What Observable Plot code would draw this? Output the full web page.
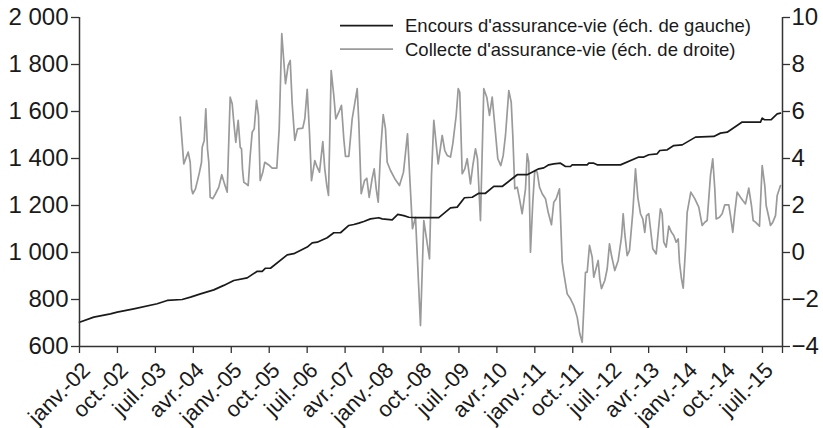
<!DOCTYPE html>
<html><head><meta charset="utf-8">
<script src="https://cdn.jsdelivr.net/npm/d3@7"></script>
<script src="https://cdn.jsdelivr.net/npm/@observablehq/plot@0.6"></script>
<style>body{margin:0;background:#fff} svg{display:block}</style>
</head><body><div id="chart"></div>
<script>
// x = months since janv.-02 (0 = janv.-02)
const tickMonths = [0,9,18,27,36,45,54,63,72,81,90,99,108,117,126,135,144,153,162];
const tickLabels = ["janv.-02","oct.-02","juil.-03","avr.-04","janv.-05","oct.-05","juil.-06","avr.-07","janv.-08","oct.-08","juil.-09","avr.-10","janv.-11","oct.-11","juil.-12","avr.-13","janv.-14","oct.-14","juil.-15"];
const xEnd = 166.75;
const leftTicks = [600,800,1000,1200,1400,1600,1800,2000];
const rightTicks = [-4,-2,0,2,4,6,8,10];
const seriesNames = ["Encours d'assurance-vie (éch. de gauche)","Collecte d'assurance-vie (éch. de droite)"];

// Encours (left scale)
const encoursT = [0,3.39,7.35,8.94,12.88,18.43,20.80,24.36,26.33,28.70,31.85,34.22,36.60,39.78,42.15,43.34,44.12,45.30,49.27,50.83,54.01,55.19,56.38,58.75,60.32,61.91,63.88,65.06,66.25,67.43,69.02,70.99,71.80,74.17,75.50,76.92,78.11,79.70,85.22,88.00,89.59,91.32,93.15,94.71,96.30,98.27,100.26,103.82,106.19,108.94,110.13,111.31,112.50,114.09,115.28,116.46,116.86,120.42,120.80,121.99,122.79,128.32,132.66,133.85,135.03,137.03,137.64,139.40,140.96,142.96,146.11,150.45,152.04,153.63,157.19,161.53,161.93,162.48,164.07,165.49,166.27];
const encoursV = [703,725,739,746,760,782,796,800,810,824,841,860,881,892,920,920,933,933,990,995,1023,1041,1044,1063,1084,1084,1115,1119,1125,1132,1143,1148,1143,1139,1162,1157,1150,1148,1148,1190,1193,1233,1235,1252,1252,1281,1281,1331,1331,1356,1360,1373,1377,1380,1366,1366,1373,1373,1380,1380,1373,1373,1406,1406,1416,1420,1434,1437,1455,1458,1491,1494,1508,1512,1555,1555,1572,1565,1565,1590,1593];

// Collecte (right scale)
const collecteT = [23.89,24.74,25.78,26.26,26.57,26.87,27.51,27.99,28.46,28.94,29.10,29.58,29.96,30.36,30.67,31.00,31.62,32.26,33.04,33.75,34.39,35.03,35.74,36.22,36.60,37.07,37.64,38.12,38.43,38.66,38.97,39.54,40.01,40.49,40.96,41.44,41.98,42.46,42.86,43.48,43.95,45.07,45.71,46.80,47.37,47.98,48.86,49.50,49.98,50.45,51.07,51.71,
52.96,53.44,54.01,54.55,55.03,55.81,56.38,56.93,57.71,58.18,58.66,59.06,59.70,60.32,60.79,61.50,62.14,62.69,63.09,63.88,64.68,65.87,66.25,66.82,67.60,68.15,68.71,69.43,69.90,70.38,70.85,71.40,72.04,72.58,72.98,73.77,74.79,75.90,76.85,77.80,78.44,78.98,79.70,80.88,
81.67,83.02,83.49,84.04,85.08,86.03,86.65,87.22,88.00,88.55,89.35,89.83,90.20,90.77,91.39,91.96,92.74,93.29,93.93,94.40,95.11,95.90,96.61,97.25,97.89,98.51,99.22,99.93,100.50,101.04,101.83,102.40,102.78,103.25,103.82,104.36,105.00,105.79,106.19,106.57,106.97,107.52,107.99,108.56,109.11,109.75,110.53,111.17,111.95,112.50,113.07,113.85,114.49,114.97,115.68,116.46,117.24,118.05,118.67,119.24,
120.02,120.42,120.97,121.61,121.98,123.03,123.41,123.81,124.60,125.17,125.71,126.19,126.97,127.78,128.56,128.96,129.34,129.91,130.46,131.24,131.88,132.43,133.06,133.61,134.08,134.49,135.03,135.44,135.98,136.79,
137.79,138.21,138.59,139.16,139.78,140.42,140.96,141.53,142.01,142.31,142.79,143.19,143.74,144.14,145.00,145.94,146.89,147.70,148.32,148.88,149.67,150.21,150.69,151.02,151.80,152.44,153.06,154.01,154.41,154.96,155.43,156.00,156.78,157.33,157.97,158.75,159.39,159.80,160.34,161.29,161.93,162.55,162.88,163.50,163.90,164.45,165.09,165.49,166.27];
const collecteV = [5.76,3.77,4.27,3.84,2.71,2.50,2.71,3.06,3.42,3.84,4.48,4.77,6.11,4.41,3.84,2.35,2.29,2.50,2.78,3.31,2.92,2.57,6.61,6.33,5.54,4.69,5.62,4.48,4.41,3.56,2.99,2.92,2.85,4.13,5.12,5.26,6.47,5.83,3.06,3.42,3.84,3.70,3.59,3.59,5.26,9.31,7.18,7.96,8.17,6.33,4.77,5.26,
5.29,5.69,6.94,5.12,3.06,3.91,3.63,3.42,4.72,3.56,2.85,2.43,7.74,6.68,5.69,5.97,6.26,4.84,4.09,4.09,5.69,6.97,5.54,2.50,3.06,3.16,2.35,3.16,3.56,2.71,2.14,4.27,5.87,5.26,3.84,3.49,3.14,2.85,3.42,5.05,2.85,1.01,1.50,-3.11,
1.36,-0.27,3.28,5.62,3.77,4.98,4.34,4.13,4.06,4.63,5.83,6.97,6.82,3.35,3.56,3.99,2.92,3.70,4.41,3.99,1.36,6.97,6.61,5.83,6.61,5.40,3.99,3.70,4.13,4.98,6.89,6.40,4.98,2.71,2.78,2.29,1.65,2.71,4.20,3.84,0.01,2.14,3.49,3.42,2.78,2.50,2.29,1.71,1.18,2.14,2.29,2.71,-0.41,-0.98,-1.76,-1.97,-2.26,-2.75,-3.46,-3.82,
-0.84,-0.84,0.30,-0.20,-1.05,-0.34,-1.12,-1.54,-1.19,-0.69,0.37,-0.13,-0.77,-0.34,0.65,1.65,0.80,-0.13,0.09,1.71,3.56,2.35,1.65,1.43,0.86,1.57,1.65,1.01,0.16,-0.06,
1.86,1.65,0.44,0.23,1.12,0.86,0.72,0.44,0.58,-0.41,-1.12,-1.52,0.16,1.71,2.57,2.29,1.93,1.15,1.29,1.36,3.28,3.99,2.71,1.43,1.50,1.65,2.03,2.03,1.57,0.86,1.71,2.57,2.35,2.21,2.07,2.74,2.00,1.36,1.29,1.12,3.70,2.85,2.00,1.50,1.15,1.29,1.57,2.43,2.85];

// right scale mapped onto left scale: 600 <-> -4, 2000 <-> 10
const toLeft = v => 1000 + v * 100;
const fmtL = d => String(d).replace(/\B(?=(\d{3})+(?!\d))/g, " ");
const fmtR = d => (d < 0 ? "\u2212" : "") + Math.abs(Math.round(d));

const encours = encoursT.map((t, i) => ({t, v: encoursV[i]}));
const n = Math.min(collecteT.length, collecteV.length);
const collecte = collecteT.slice(0, n).map((t, i) => ({t, v: collecteV[i]}));

const FONT = "'Liberation Sans', Arial, Helvetica, sans-serif";
const axisColor = "#333";

const chart = Plot.plot({
  width: 823,
  height: 428,
  marginLeft: 79,
  marginRight: 41,
  marginTop: 17,
  marginBottom: 82,
  style: {fontFamily: FONT, fontSize: "24px", color: "#1a1a1a", background: "#fff", overflow: "visible"},
  x: {domain: [0, xEnd], axis: null},
  y: {domain: [600, 2000], axis: null},
  marks: [
    Plot.axisY(leftTicks, {anchor: "left", label: null, tickSize: 8, tickPadding: 3, tickFormat: fmtL, stroke: axisColor, strokeWidth: 1.3, fill: "#1a1a1a"}),
    Plot.axisY(rightTicks.map(toLeft), {anchor: "right", label: null, tickSize: 7, tickPadding: 2, tickFormat: d => fmtR((d - 1000) / 100), stroke: axisColor, strokeWidth: 1.3, fill: "#1a1a1a"}),
    Plot.axisX([...tickMonths, xEnd], {anchor: "bottom", label: null, tickSize: 7, tickFormat: () => "", stroke: axisColor, strokeWidth: 1.3}),
    Plot.line(collecte, {x: "t", y: d => toLeft(d.v), stroke: "#9a9a9a", strokeWidth: 1.7, strokeLinejoin: "round"}),
    Plot.line(encours, {x: "t", y: "v", stroke: "#1a1a1a", strokeWidth: 1.7, strokeLinejoin: "round"}),
    Plot.ruleY([600], {stroke: axisColor, strokeWidth: 1.5}),
    Plot.ruleX([0, xEnd], {stroke: axisColor, strokeWidth: 1.5}),
    Plot.text(tickMonths, {x: d => d, text: (d, i) => tickLabels[i], frameAnchor: "bottom", rotate: -45, textAnchor: "end", lineAnchor: "middle", dx: 7, dy: 20, fontSize: 22, fill: "#1a1a1a"})
  ]
});
document.getElementById("chart").appendChild(chart);

// legend inside the plot area (top right)
const svg = d3.select(chart);
const lg = svg.append("g").attr("font-family", FONT).attr("font-size", 18.5).attr("fill", "#1a1a1a").attr("text-anchor", "start");
const legendColors = ["#1a1a1a", "#9a9a9a"];
seriesNames.forEach((name, i) => {
  const y = 25.7 + i * 23.5;
  lg.append("line").attr("x1", 340).attr("x2", 393).attr("y1", y).attr("y2", y)
    .attr("stroke", legendColors[i]).attr("stroke-width", 1.7);
  lg.append("text").attr("x", 405).attr("y", y).attr("dy", "0.36em").text(name);
});
</script>
</body></html>
